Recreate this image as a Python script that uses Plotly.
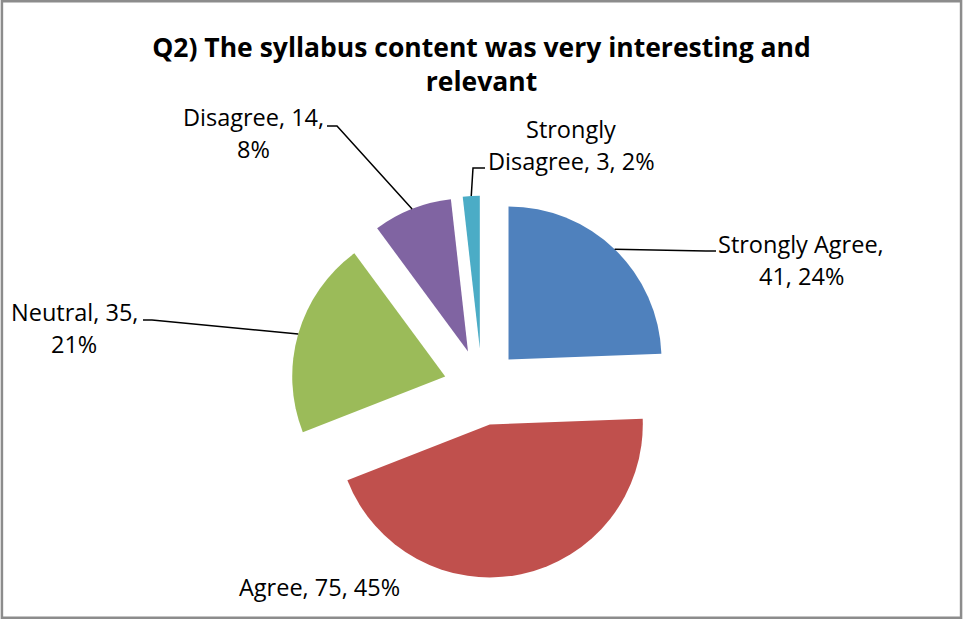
import math
import plotly.graph_objects as go

categories = ["Strongly Agree", "Agree", "Neutral", "Disagree", "Strongly Disagree"]
counts = [41, 75, 35, 14, 3]
percent_labels = ["24%", "45%", "21%", "8%", "2%"]
colors = ["#4F81BD", "#C0504D", "#9BBB59", "#8064A2", "#4BACC6"]
title_text = "Q2) The syllabus content was very interesting and<br>relevant"

W, H = 963, 619
PULL = 0.25
# pie domain (paper fractions)
dom_x = [0.3019, 0.6991]
dom_y = [0.0658, 0.6838]

# label lines, centre x / first-line y in px
label_lines = [
    ["Strongly Agree,", "41, 24%"],
    ["Agree, 75, 45%"],
    ["Neutral, 35,", "21%"],
    ["Disagree, 14,", "8%"],
    ["Strongly", "Disagree, 3, 2%"],
]
label_pos = [(801, 244), (319, 587), (74, 312), (253, 117), (571, 129)]
LINE_GAP = 32
leader_start = [(716, 251), None, (143, 320), (327, 126), (485, 168)]
leader_elbow = [(706, 251), None, (152, 320), (337, 126), (473, 168)]

fig = go.Figure(go.Pie(
    labels=categories,
    values=counts,
    sort=False,
    direction="clockwise",
    rotation=0,
    pull=[PULL] * len(counts),
    marker=dict(colors=colors, line=dict(width=0)),
    textinfo="none",
    hoverinfo="label+value+percent",
    showlegend=False,
    domain=dict(x=dom_x, y=dom_y),
))

# geometry (same as plotly's pie scaling) to attach leader lines to slice arcs
cx = W * (dom_x[0] + dom_x[1]) / 2
cy = H * (1 - (dom_y[0] + dom_y[1]) / 2)
r = min(W * (dom_x[1] - dom_x[0]), H * (dom_y[1] - dom_y[0])) / 2 / (1 + PULL)
total = sum(counts)
cum = 0
shapes = []
annotations = []
for i, v in enumerate(counts):
    mid = (cum + v / 2) / total * 2 * math.pi
    cum += v
    dx, dy = math.sin(mid), -math.cos(mid)
    ex = cx + (1 + PULL) * r * dx
    ey = cy + (1 + PULL) * r * dy
    if leader_start[i] is not None:
        sx, sy = leader_start[i]
        bx, by = leader_elbow[i]
        path = "M {} {} L {} {} L {} {}".format(
            sx / W, 1 - sy / H, bx / W, 1 - by / H, ex / W, 1 - ey / H)
        shapes.append(dict(type="path", xref="paper", yref="paper", path=path,
                           line=dict(color="black", width=1.5)))
    lx, ly = label_pos[i]
    for k, line in enumerate(label_lines[i]):
        annotations.append(dict(x=lx / W, y=1 - (ly + k * LINE_GAP) / H,
                                xref="paper", yref="paper",
                                text=line, showarrow=False, align="center",
                                xanchor="center", yanchor="middle",
                                font=dict(family="Open Sans", size=23.5, color="black")))

# chart border
shapes.append(dict(type="rect", xref="paper", yref="paper", x0=0.002, y0=0.002,
                   x1=0.998, y1=0.998, line=dict(color="#8C8C8C", width=2.5)))

fig.update_layout(
    width=W, height=H,
    margin=dict(l=0, r=0, t=0, b=0),
    paper_bgcolor="white",
    plot_bgcolor="white",
    title=dict(text="<b>" + title_text + "</b>", x=0.5, xanchor="center",
               y=1 - 57 / H, yanchor="middle",
               font=dict(family="Open Sans", size=26.5, color="black")),
    shapes=shapes,
    annotations=annotations,
)

fig.write_html("out.html", config={"displayModeBar": False},
               post_script="document.body.style.margin='0';")
